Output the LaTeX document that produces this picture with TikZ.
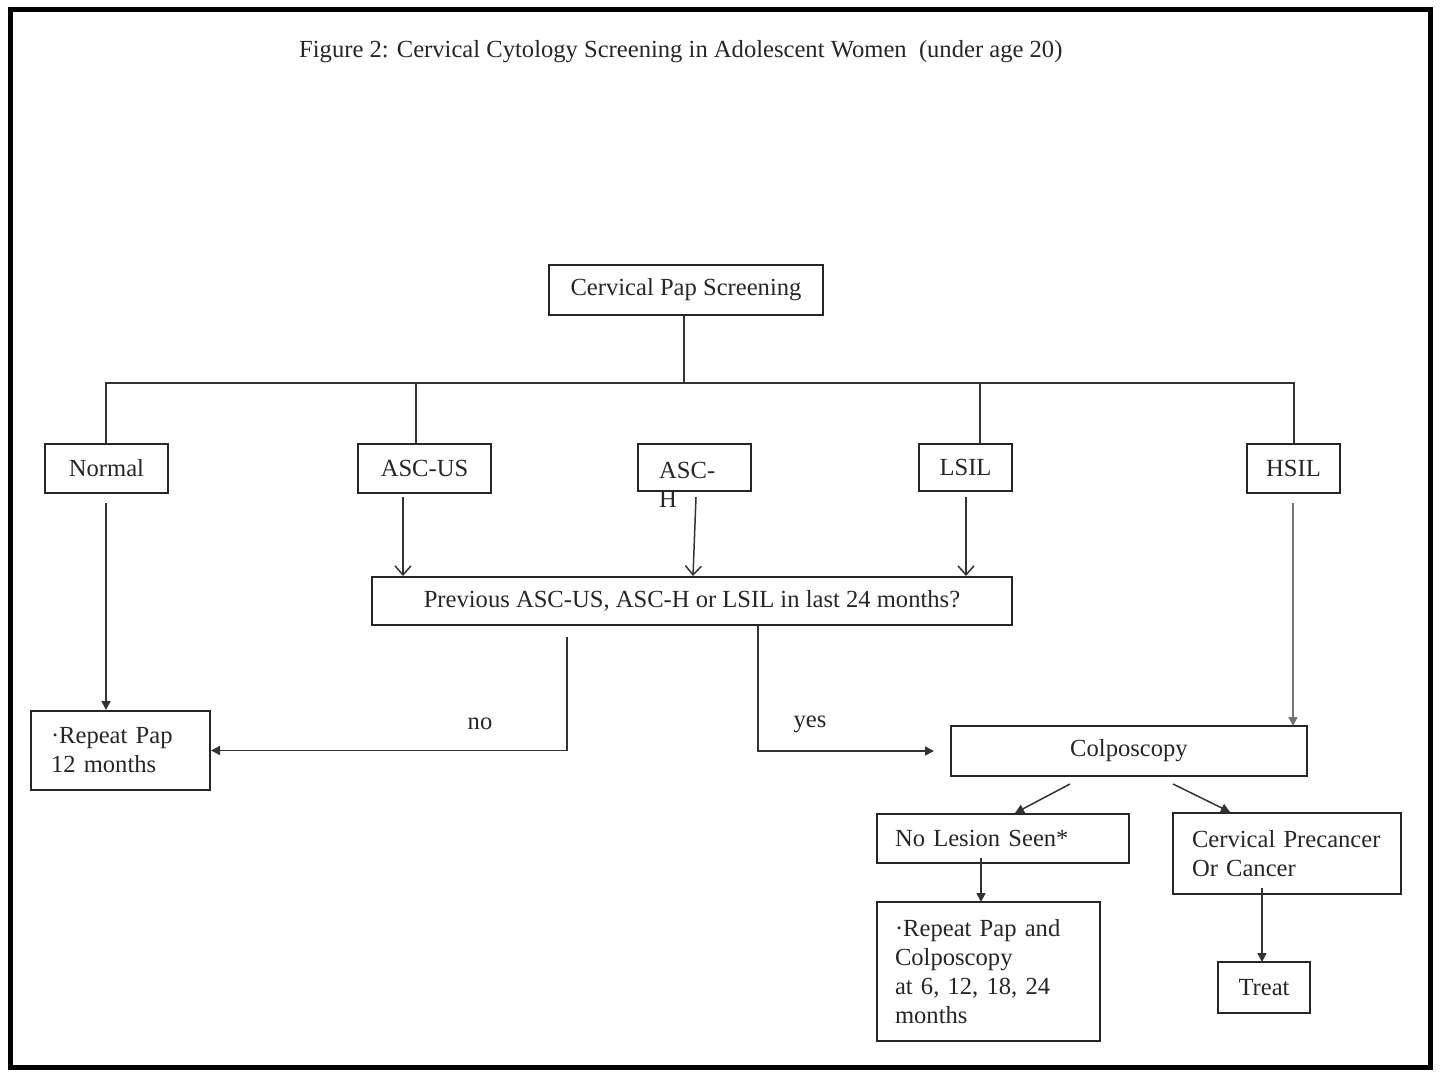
\documentclass[tikz,border=0pt]{standalone}
\usepackage{fontspec}
\setmainfont{Liberation Serif}
\usetikzlibrary{arrows.meta}
\begin{document}
\begin{tikzpicture}[x=1pt,y=-1pt,
  box/.style={draw=black!85, line width=2pt, rectangle, inner sep=0pt, font=\fontsize{24.6}{29}\selectfont, text=black!85},
  lbox/.style={box, align=left},
  txt/.style={font=\fontsize{24.6}{29}\selectfont, text=black!85, inner sep=0pt},
  conn/.style={draw=black!80, line width=1.5pt},
  tri/.style={conn, -{Triangle[length=9pt,width=9pt]}},
  opn/.style={conn, -{Straight Barb[length=9pt,width=16pt,line width=1.5pt]}}
]
\useasboundingbox (0,0) rectangle (1440,1073);
\draw[line width=5pt, black] (10,10) rectangle (1430,1067);

\node[txt, anchor=west] (title) at (299,52) {Figure 2: Cervical Cytology Screening in Adolescent Women\ \ (under age 20)};

\node[box, minimum width=274, minimum height=50] (pap) at (686,290) {Cervical Pap Screening};

\node[box, minimum width=123, minimum height=49] (normal) at (106.5,468.5) {Normal};
\node[box, minimum width=133, minimum height=49] (ascus) at (424.5,468.5) {ASC-US};
\node[box, minimum width=113, minimum height=47] (asch) at (694.5,467.5) {};
\node[txt, anchor=north west, align=left] (aschtext) at (659,462) {ASC-\\H};
\node[box, minimum width=93, minimum height=47] (lsil) at (965.5,467.5) {LSIL};
\node[box, minimum width=93, minimum height=49] (hsil) at (1293.5,468.5) {HSIL};

\coordinate (bus) at (684,383);
\draw[conn] (pap.south) ++(-2,0) -- (684,383);
\draw[conn] (normal.north) ++(-0.5,0) |- (bus) -| ([xshift=0.5pt]hsil.north);
\draw[conn] (416,383) -- (416,444);
\draw[conn] (980,383) -- (980,444);

\node[box, minimum width=640, minimum height=48] (prev) at (692,601) {Previous ASC-US, ASC-H or LSIL in last 24 months?};

\draw[opn] (403,497) -- (403,576);
\draw[opn] (696,497) -- (693,576);
\draw[opn] (966,497) -- (966,576);

\node[lbox, minimum width=179, minimum height=79, text width=139] (rep12) at (120.5,750.5) {·Repeat Pap\\12 months};
\draw[tri] (106,503) -- (rep12.north -| 106,0);

\coordinate (nostart) at (567,637);
\draw[tri] (nostart) |- (rep12.east);
\node[txt] (nolab) at (480,724) {no};

\node[box, minimum width=356, minimum height=50] (colpo) at (1129,751) {Colposcopy};
\coordinate (yesstart) at (758,625);
\draw[tri] (yesstart) |- ([xshift=-16pt]colpo.west);
\node[txt] (yeslab) at (810,724) {yes};

\draw[tri, draw=black!55] (1293,503) -- (1293,726);

\node[lbox, minimum width=252, minimum height=49, text width=216] (nolesion) at (1003,838.5) {No Lesion Seen*};
\node[lbox, minimum width=228, minimum height=81, text width=190] (precancer) at (1287,853.5) {\mbox{Cervical Precancer}\\Or Cancer};
\draw[tri] (1070,784) -- (1015,813);
\draw[tri] (1173,784) -- (1230,812);

\node[lbox, minimum width=223, minimum height=139, text width=187] (rep6) at (988.5,971.5) {·Repeat Pap and\\Colposcopy\\at 6, 12, 18, 24\\months};
\draw[tri] (981,858) -- (981,902);

\node[box, minimum width=92, minimum height=51] (treat) at (1264,987.5) {Treat};
\draw[tri] (1262,888) -- (1262,962);
\end{tikzpicture}
\end{document}
